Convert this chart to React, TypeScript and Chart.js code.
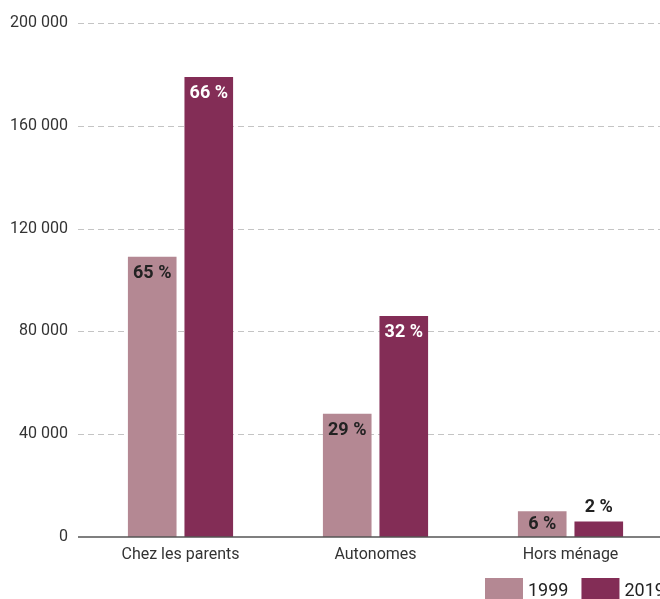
import React, { useEffect, useRef } from "react";
import { Chart, registerables } from "chart.js";

Chart.register(...registerables);

const categories = ["Chez les parents", "Autonomes", "Hors ménage"];
const seriesNames = ["1999", "2019"];
const values1999 = [109000, 48000, 10000];
const values2019 = [179000, 86000, 6000];
const labels1999 = ["65 %", "29 %", "6 %"];
const labels2019 = ["66 %", "32 %", "2 %"];
const yTicks = [0, 40000, 80000, 120000, 160000, 200000];

const colors = ["#b48893", "#832d56"];
const labelColors = ["#222222", "#ffffff"];

const fmt = (v: number) => String(v).replace(/\B(?=(\d{3})+(?!\d))/g, " ");

const gridPlugin = {
  id: "customGrid",
  beforeDatasetsDraw(chart: any) {
    const ctx = chart.ctx;
    const ys = chart.scales.y;
    const area = chart.chartArea;
    const x0 = area.left - 5;
    ctx.save();
    ctx.strokeStyle = "#c4c4c4";
    ctx.lineWidth = 1;
    ctx.setLineDash([6, 4]);
    yTicks.forEach((v) => {
      if (v === 0) return;
      const y = Math.round(ys.getPixelForValue(v)) + 0.5;
      ctx.beginPath();
      ctx.moveTo(x0, y);
      ctx.lineTo(area.right, y);
      ctx.stroke();
    });
    ctx.restore();
  },
  afterDatasetsDraw(chart: any) {
    const ctx = chart.ctx;
    const ys = chart.scales.y;
    const area = chart.chartArea;
    const y = ys.getPixelForValue(0);
    ctx.save();
    ctx.strokeStyle = "#555555";
    ctx.lineWidth = 1.5;
    ctx.beginPath();
    ctx.moveTo(area.left - 5, y);
    ctx.lineTo(area.right, y);
    ctx.stroke();
    ctx.restore();
  },
};

const barLabelPlugin = {
  id: "barLabels",
  afterDatasetsDraw(chart: any) {
    const ctx = chart.ctx;
    const texts = [labels1999, labels2019];
    ctx.save();
    ctx.font = "bold 18px Roboto";
    ctx.textAlign = "center";
    ctx.textBaseline = "middle";
    chart.data.datasets.forEach((ds: any, di: number) => {
      const meta = chart.getDatasetMeta(di);
      meta.data.forEach((bar: any, i: number) => {
        const h = bar.base - bar.y;
        let y;
        if (h < 20) {
          ctx.fillStyle = "#222222";
          y = bar.y - 14;
        } else {
          ctx.fillStyle = labelColors[di];
          y = bar.y + Math.min(17, h / 2);
        }
        ctx.fillText(texts[di][i], bar.x, y);
      });
    });
    ctx.restore();
  },
};

const legendPlugin = {
  id: "customLegend",
  afterDraw(chart: any) {
    const ctx = chart.ctx;
    const area = chart.chartArea;
    const boxW = 38;
    const boxH = 24;
    const top = area.bottom + 41;
    let x = area.right - 183;
    ctx.save();
    ctx.font = "18px Roboto";
    ctx.textBaseline = "middle";
    ctx.textAlign = "left";
    chart.data.datasets.forEach((ds: any) => {
      ctx.fillStyle = ds.backgroundColor;
      ctx.fillRect(x, top, boxW, boxH);
      x += boxW + 5;
      ctx.fillStyle = "#222222";
      ctx.fillText(ds.label, x, top + 13);
      x += ctx.measureText(ds.label).width + 13;
    });
    ctx.restore();
  },
};

export default function App() {
  const ref = useRef<HTMLCanvasElement>(null);
  useEffect(() => {
    if (!ref.current) return;
    const chart = new Chart(ref.current, {
      type: "bar",
      data: {
        labels: categories,
        datasets: [
          {
            label: seriesNames[0],
            data: values1999,
            backgroundColor: colors[0],
            categoryPercentage: 0.58,
            barPercentage: 0.86,
          },
          {
            label: seriesNames[1],
            data: values2019,
            backgroundColor: colors[1],
            categoryPercentage: 0.58,
            barPercentage: 0.86,
          },
        ],
      },
      options: {
        animation: false,
        responsive: true,
        maintainAspectRatio: false,
        layout: { padding: { top: 15, right: 20, left: 0, bottom: 45 } },
        plugins: {
          legend: { display: false },
          tooltip: { enabled: false },
        },
        scales: {
          x: {
            afterFit: (s: any) => {
              s.height = 30;
            },
            grid: { display: false },
            border: { display: false },
            ticks: {
              font: { family: "Roboto", size: 16 },
              color: "#333",
              padding: 0,
            },
          },
          y: {
            min: 0,
            max: 200000,
            afterFit: (s: any) => {
              s.width = 75;
              s.paddingTop = 0;
              s.paddingBottom = 0;
            },
            afterBuildTicks: (s: any) => {
              s.ticks = yTicks.map((v) => ({ value: v }));
            },
            border: { display: false },
            grid: { display: false, drawTicks: false },
            ticks: {
              font: { family: "Roboto", size: 16 },
              color: "#333",
              padding: 15,
              callback: (v: any) => fmt(Number(v)),
            },
          },
        },
      },
      plugins: [gridPlugin, barLabelPlugin, legendPlugin],
    });
    return () => chart.destroy();
  }, []);
  return (
    <div
      style={{
        position: "fixed",
        left: 8,
        top: 8,
        width: 652,
        height: 591,
        overflow: "hidden",
      }}
    >
      <div style={{ width: 680, height: 604, position: "relative" }}>
        <canvas ref={ref} />
      </div>
    </div>
  );
}
